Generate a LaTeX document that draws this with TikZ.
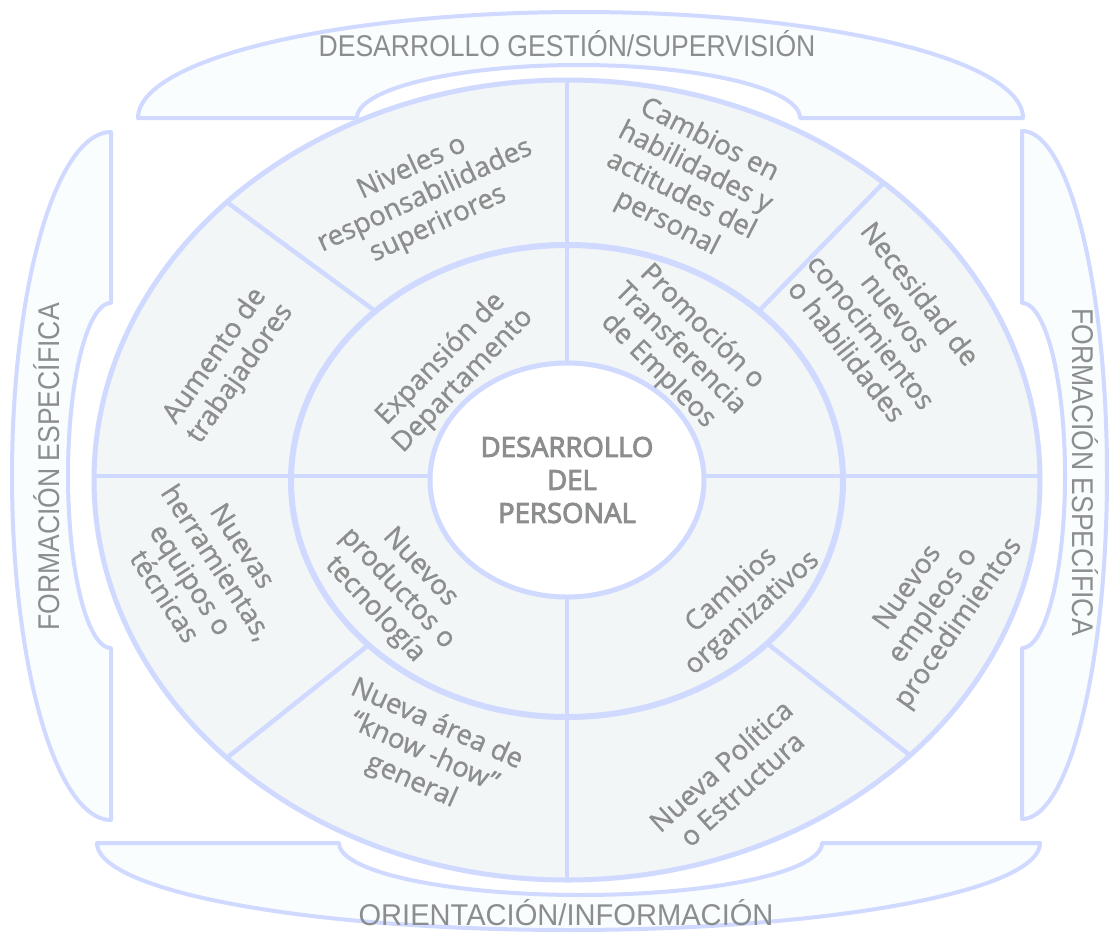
\documentclass[tikz,border=0pt]{standalone}
\usepackage{fontspec}
\usetikzlibrary{shapes.geometric}
\setmainfont{Open Sans}
\newfontfamily\ringfont[FakeBold=1]{Open Sans}
\newfontfamily\hubfont[FakeBold=3.5]{Open Sans}
\newfontfamily\bandfont[FakeStretch=0.885]{Liberation Sans}
\newfontfamily\bandwidefont[FakeStretch=0.97]{Liberation Sans}

\definecolor{rim}{RGB}{208,217,255}
\definecolor{ringfill}{RGB}{242,246,247}
\definecolor{bandfill}{RGB}{249,253,254}
\definecolor{ink}{RGB}{140,142,142}

\begin{document}
\begin{tikzpicture}[x=1pt,y=-1pt,
  band/.style={draw=rim, line width=4pt, fill=bandfill, line join=round},
  rimline/.style={draw=rim, line width=5pt},
  divider/.style={draw=rim, line width=4.5pt},
  seg/.style={text=ink, font=\ringfont\fontsize{27.5}{31}\selectfont, align=center, inner sep=0pt},
  bandlabel/.style={text=ink, font=\bandfont\fontsize{30}{34}\selectfont, inner sep=0pt},
  hubstyle/.style={ellipse, draw=rim, line width=5pt, fill=white, inner sep=0pt,
    minimum width=274pt, minimum height=234pt, text=ink, align=center,
    font=\hubfont\fontsize{27.5}{33}\selectfont}]
\useasboundingbox (0,0) rectangle (1109,935);

% ---- outer bands ----
% top band
\path[band] (138,118) -- (357,118)
  -- plot[domain=180:360, samples=91] ({578.5+221.5*cos(\x)}, {118+53*sin(\x)})
  -- (1023,118)
  -- plot[domain=360:180, samples=121] ({580.5+442.5*cos(\x)}, {118+106*sin(\x)})
  -- cycle;
% left band
\path[band] (111,132) -- (111,303)
  -- plot[domain=270:90, samples=91] ({111+43*cos(\x)}, {475.5+172.5*sin(\x)})
  -- (111,820)
  -- plot[domain=90:270, samples=121] ({111+99*cos(\x)}, {476+344*sin(\x)})
  -- cycle;
% right band
\path[band] (1022,131) -- (1022,303)
  -- plot[domain=-90:90, samples=91] ({1022+43*cos(\x)}, {475.5+172.5*sin(\x)})
  -- (1022,819)
  -- plot[domain=90:-90, samples=121] ({1022+85*cos(\x)}, {475+344*sin(\x)})
  -- cycle;
% bottom band
\path[band] (97,843) -- (339,843)
  -- plot[domain=180:0, samples=91] ({580.5+241.5*cos(\x)}, {843+52*sin(\x)})
  -- (1040,843)
  -- plot[domain=0:180, samples=121] ({568.5+471.5*cos(\x)}, {843+87*sin(\x)})
  -- cycle;

% ---- wheel ----
\fill[ringfill] (567,480) ellipse [x radius=473pt, y radius=400pt];

% divider end points
\coordinate (ulin) at (375.3,311.2);  \coordinate (ulout) at (226.8,202.1);
\coordinate (urin) at (758.7,311.2);  \coordinate (urout) at (883.5,182.8);
\coordinate (llin) at (368.5,645.0);  \coordinate (llout) at (226.8,757.9);
\coordinate (lrin) at (767.2,643.5);  \coordinate (lrout) at (910.1,755.4);
\coordinate (top) at (567,80);  \coordinate (bot) at (567,880);
\coordinate (lft) at (94,476);  \coordinate (rgt) at (1040,476);

\draw[divider] (ulin) -- (ulout);
\draw[divider] (urin) -- (urout);
\draw[divider] (llin) -- (llout);
\draw[divider] (lrin) -- (lrout);
\draw[divider] (top) -- (bot);
\draw[divider] (lft) -- (rgt);

\draw[draw=rim, line width=6pt] (567,481) ellipse [x radius=276pt, y radius=236pt];
\draw[rimline] (567,480) ellipse [x radius=473pt, y radius=400pt];

\node[hubstyle] (hub) at (567,480) {DESARROLLO\\\hspace*{10pt}DEL\\PERSONAL};

% ---- segment labels ----
\node[seg, rotate=25]  (niveles)  at (425,196) {Niveles o\\responsabilidades\\superirores};
\node[seg, rotate=55]  (aumento)  at (228,365) {Aumento de\\trabajadores};
\node[seg, rotate=46]  (expansion) at (452,370) {Expansión de\\Departamento};
\node[seg, rotate=-27] (cambios)  at (688,182) {Cambios en\\habilidades y\\actitudes del\\personal};
\node[seg, rotate=-45] (promocion) at (680,349) {Promoción o\\Transferencia\\de Empleos};
\node[seg, rotate=-52] (necesidad) at (884,322) {Necesidad de\\nuevos\\conocimientos\\o habilidades};
\node[seg, rotate=-57] (herram)   at (204,571) {Nuevas\\herramientas,\\equipos o\\técnicas};
\node[seg, rotate=-47] (productos) at (397,589) {Nuevos\\productos o\\tecnología};
\node[seg, rotate=-24] (knowhow)  at (424,753) {Nueva área de\\“know -how”\\general};
\node[seg, rotate=42]  (organiz)  at (742,602) {Cambios\\organizativos};
\node[seg, rotate=55]  (empleos)  at (934,606) {Nuevos\\empleos o\\procedimientos};
\node[seg, rotate=42]  (politica) at (731,777) {Nueva Política\\o Estructura};

% ---- band labels ----
\node[bandlabel] (gestion) at (567,44) {DESARROLLO GESTIÓN/SUPERVISIÓN};
\node[bandlabel, font=\bandwidefont\fontsize{30}{34}\selectfont] (orient) at (566,913) {ORIENTACIÓN/INFORMACIÓN};
\node[bandlabel, rotate=90] (formL) at (47,467) {FORMACIÓN ESPECÍFICA};
\node[bandlabel, rotate=-90] (formR) at (1085,472) {FORMACIÓN ESPECÍFICA};
\end{tikzpicture}
\end{document}
